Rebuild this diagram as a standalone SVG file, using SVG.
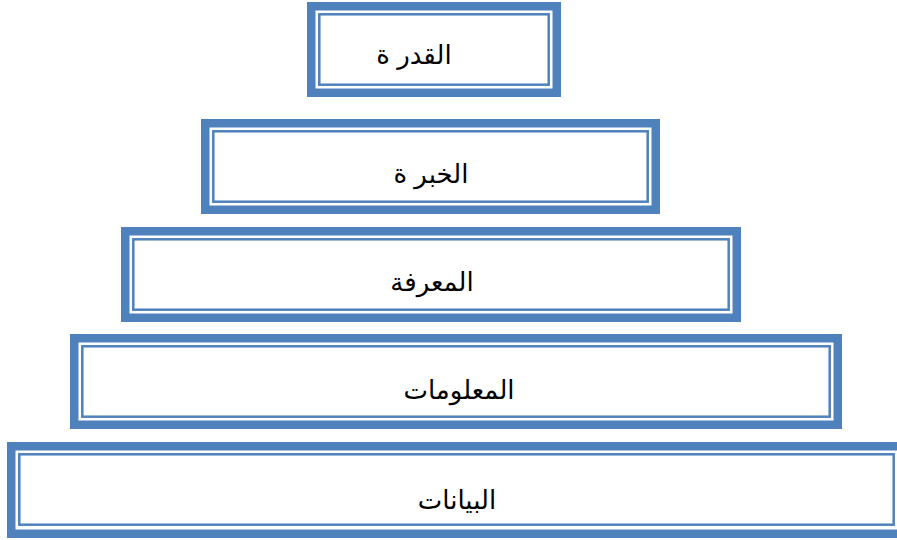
<svg xmlns="http://www.w3.org/2000/svg" width="897" height="540" viewBox="0 0 897 540">
<style>
.band{fill:none;stroke:#4F81BD;stroke-width:8.5}
.thin{fill:none;stroke:#4F81BD;stroke-width:2.5}
.lbl{font-family:"Liberation Sans","DejaVu Sans",Arial,sans-serif;font-size:26px;fill:#000;text-anchor:middle}
</style>
<rect x="0" y="0" width="897" height="540" fill="#ffffff"/>
<g id="node-qudra">
<rect class="band" x="311.25" y="6.25" width="245.5" height="86.5"/>
<rect class="thin" x="319.3" y="14.3" width="229.4" height="70.4"/>
<text class="lbl" x="414" y="64" direction="rtl">القدر ة</text>
</g>
<g id="node-khibra">
<rect class="band" x="205.25" y="123.25" width="450.5" height="86.5"/>
<rect class="thin" x="213.3" y="131.3" width="434.4" height="70.4"/>
<text class="lbl" x="431" y="183" direction="rtl">الخبر ة</text>
</g>
<g id="node-maarifa">
<rect class="band" x="125.25" y="231.25" width="611.5" height="86.5"/>
<rect class="thin" x="133.3" y="239.3" width="595.4" height="70.4"/>
<text class="lbl" x="432" y="291" direction="rtl">المعرفة</text>
</g>
<g id="node-maalumat">
<rect class="band" x="74.25" y="338.25" width="763.5" height="86.5"/>
<rect class="thin" x="82.3" y="346.3" width="747.4" height="70.4"/>
<text class="lbl" x="459" y="399" direction="rtl">المعلومات</text>
</g>
<g id="node-bayanat">
<rect class="band" x="11.25" y="446.25" width="890.5" height="87.5"/>
<rect class="thin" x="19.3" y="454.3" width="874.4" height="70.4"/>
<text class="lbl" x="457" y="509" direction="rtl">البيانات</text>
</g>
<g id="connectors"></g>
</svg>
